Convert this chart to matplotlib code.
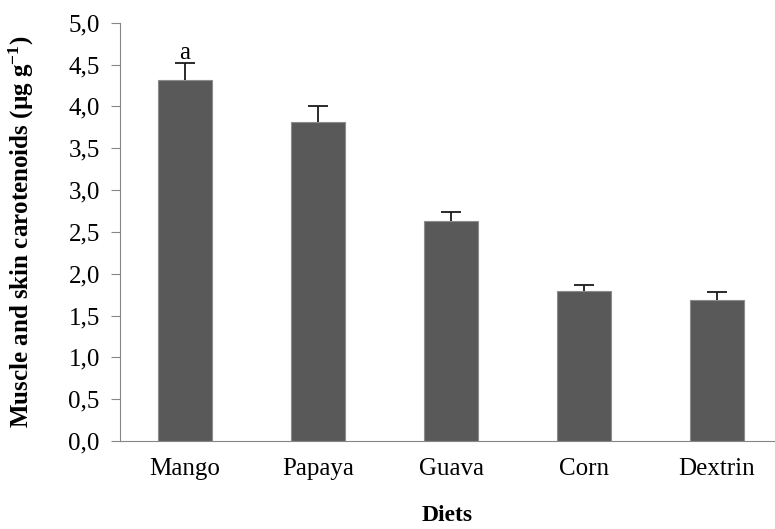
import numpy as np
import matplotlib.pyplot as plt
from matplotlib.ticker import FuncFormatter

diets = ["Mango", "Papaya", "Guava", "Corn", "Dextrin"]
carotenoids = [4.31, 3.81, 2.63, 1.79, 1.69]
err = [0.21, 0.19, 0.11, 0.07, 0.09]
letters = ["a", "", "", "", ""]

plt.rcParams['font.family'] = ['Liberation Serif', 'DejaVu Serif']
plt.rcParams['mathtext.fontset'] = 'custom'
plt.rcParams['mathtext.rm'] = 'Liberation Serif:bold'
plt.rcParams['mathtext.it'] = 'Liberation Serif:bold'

fig = plt.figure(figsize=(7.75, 5.29), dpi=100)
ax = fig.add_axes([0.1548, 0.1663, 0.8452, 0.7907])

x = np.arange(len(diets))
ax.bar(x, carotenoids, width=0.41, color="#595959", edgecolor="#8c8c8c", linewidth=0.8)

# barras de error solo hacia arriba
eb = ax.errorbar(x, carotenoids, yerr=[np.zeros(len(err)), err], fmt="none",
                 ecolor="#1a1a1a", elinewidth=1.3, capsize=7, capthick=1.3)
eb[1][0].set_visible(False)

# letras de significancia
for xi, v, e, l in zip(x, carotenoids, err, letters):
    if l:
        ax.text(xi, v + e + 0.05, l, ha="center", va="baseline", fontsize=18)

ax.set_xlim(-0.489, 4.436)
ax.set_ylim(0, 5)
ax.set_yticks(np.arange(0, 5.01, 0.5))
ax.yaxis.set_major_formatter(FuncFormatter(lambda v, p: f"{v:.1f}".replace(".", ",")))
ax.set_xticks(x)
ax.set_xticklabels(diets)

for s in ["top", "right"]:
    ax.spines[s].set_visible(False)
ax.spines["left"].set_color("#868686")
ax.spines["bottom"].set_color("#868686")
ax.tick_params(axis="y", direction="out", length=6.5, color="#868686", labelsize=18, pad=8)
ax.tick_params(axis="x", length=0, labelsize=18, pad=12)

ax.set_ylabel("Muscle and skin carotenoids (µg g$^{-1}$)", fontsize=18, fontweight="bold")
ax.yaxis.set_label_coords(-0.128, 0.5)
ax.set_xlabel("Diets", fontsize=17, fontweight="bold")
ax.xaxis.set_label_coords(0.5, -0.152)

fig.savefig("out.png", dpi=100)
